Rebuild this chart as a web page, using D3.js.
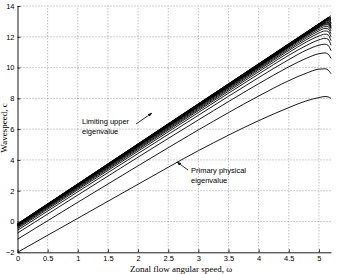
<!DOCTYPE html>
<html>
<head>
<meta charset="utf-8">
<script src="https://cdn.jsdelivr.net/npm/d3@7"></script>
<style>
body { margin: 0; background: #fff; }
.tick text { font-family: "Liberation Sans", Arial, sans-serif; font-size: 7.5px; fill: #000; }
.grid line { stroke: #888; stroke-dasharray: 1,2; stroke-width: 0.8; }
.note { font-family: "Liberation Sans", Arial, sans-serif; font-size: 7.5px; fill: #000; }
.title { font-family: "Liberation Serif", "Times New Roman", serif; font-size: 9px; fill: #000; }
</style>
</head>
<body>
<script>
var omega = [0, 1, 2, 3, 4, 4.5, 4.8, 5.0, 5.1, 5.15, 5.2];

// wavespeed curves, bottom (primary) to top (limiting)
var curves = [
  [-2.00, 0.21, 2.42, 4.60, 6.55, 7.40, 7.85, 8.05, 8.12, 8.10, 8.00],
  [-1.15, 1.25, 3.62, 5.95, 8.15, 9.15, 9.65, 9.90, 9.92, 9.85, 9.60],
  [-0.75, 1.72, 4.18, 6.60, 8.95, 10.05, 10.62, 10.90, 10.95, 10.88, 10.60],
  [-0.57, 1.93, 4.42, 6.90, 9.35, 10.52, 11.15, 11.45, 11.52, 11.45, 11.10],
  [-0.46, 2.06, 4.57, 7.08, 9.58, 10.80, 11.45, 11.80, 11.90, 11.85, 11.45],
  [-0.39, 2.14, 4.67, 7.20, 9.73, 10.98, 11.68, 12.05, 12.17, 12.13, 11.75],
  [-0.34, 2.20, 4.74, 7.28, 9.84, 11.11, 11.83, 12.24, 12.38, 12.35, 12.00],
  [-0.30, 2.25, 4.80, 7.35, 9.92, 11.20, 11.95, 12.38, 12.54, 12.52, 12.20],
  [-0.27, 2.29, 4.85, 7.41, 9.98, 11.28, 12.04, 12.49, 12.66, 12.66, 12.38],
  [-0.25, 2.32, 4.89, 7.46, 10.03, 11.34, 12.11, 12.58, 12.77, 12.78, 12.52],
  [-0.24, 2.34, 4.91, 7.49, 10.06, 11.37, 12.14, 12.62, 12.82, 12.84, 12.57],
  [-0.23, 2.35, 4.93, 7.51, 10.09, 11.39, 12.17, 12.66, 12.87, 12.90, 12.62],
  [-0.22, 2.36, 4.95, 7.53, 10.11, 11.41, 12.19, 12.69, 12.91, 12.95, 12.68],
  [-0.21, 2.37, 4.96, 7.54, 10.13, 11.43, 12.21, 12.72, 12.94, 12.99, 12.74],
  [-0.20, 2.39, 4.98, 7.57, 10.16, 11.46, 12.24, 12.76, 13.00, 13.06, 12.84],
  [-0.195, 2.395, 4.99, 7.58, 10.17, 11.48, 12.26, 12.78, 13.02, 13.09, 12.88],
  [-0.19, 2.40, 5.00, 7.59, 10.18, 11.49, 12.27, 12.79, 13.04, 13.12, 12.93],
  [-0.18, 2.41, 5.01, 7.61, 10.20, 11.51, 12.29, 12.81, 13.07, 13.17, 13.02],
  [-0.175, 2.415, 5.015, 7.615, 10.21, 11.515, 12.295, 12.82, 13.08, 13.185, 13.06],
  [-0.17, 2.42, 5.02, 7.62, 10.22, 11.52, 12.30, 12.83, 13.09, 13.20, 13.10],
  [-0.16, 2.43, 5.03, 7.63, 10.23, 11.53, 12.31, 12.84, 13.10, 13.22, 13.18],
  [-0.155, 2.44, 5.04, 7.64, 10.24, 11.54, 12.32, 12.845, 13.105, 13.23, 13.25],
  [-0.15, 2.45, 5.05, 7.65, 10.25, 11.55, 12.33, 12.85, 13.11, 13.24, 13.37]
];

var xTicks = [0, 0.5, 1, 1.5, 2, 2.5, 3, 3.5, 4, 4.5, 5];
var yTicks = [-2, 0, 2, 4, 6, 8, 10, 12, 14];

var width = 337, height = 274;

var x = d3.scaleLinear().domain([0, 5.2]).range([17.5, 331]);
var y = d3.scaleLinear().domain([-2, 14]).range([252.3, 6]);

var svg = d3.select("body").append("svg")
  .attr("width", width)
  .attr("height", height);

// dotted grid
svg.append("g").attr("class", "grid")
  .selectAll("line").data(xTicks.filter(function(d) { return d > 0; }))
  .enter().append("line")
  .attr("x1", function(d) { return x(d); }).attr("x2", function(d) { return x(d); })
  .attr("y1", y(-2)).attr("y2", y(14));

svg.append("g").attr("class", "grid")
  .selectAll("line").data(yTicks.filter(function(d) { return d > -2; }))
  .enter().append("line")
  .attr("x1", x(0)).attr("x2", x(5.2))
  .attr("y1", function(d) { return y(d); }).attr("y2", function(d) { return y(d); });

var line = d3.line()
  .x(function(d, i) { return x(omega[i]); })
  .y(function(d) { return y(d); })
  .curve(d3.curveMonotoneX);

svg.append("g")
  .selectAll("path").data(curves)
  .enter().append("path")
  .attr("d", line)
  .attr("fill", "none")
  .attr("stroke", "#000")
  .attr("stroke-width", 0.9);

// axes, ticks inside like matlab
var xAxis = d3.axisBottom(x).tickValues(xTicks).tickSizeInner(-3).tickSizeOuter(0).tickPadding(3)
  .tickFormat(function(d) { return d; });
var yAxis = d3.axisLeft(y).tickValues(yTicks).tickSizeInner(-3).tickSizeOuter(0).tickPadding(3);

var gx = svg.append("g").attr("transform", "translate(0," + y(-2) + ")").call(xAxis);
var gy = svg.append("g").attr("transform", "translate(" + x(0) + ",0)").call(yAxis);
[gx, gy].forEach(function(g) {
  g.select(".domain").attr("stroke", "#000").attr("stroke-width", 0.9);
  g.selectAll(".tick line").attr("stroke", "#000").attr("stroke-width", 0.8);
});

svg.append("text").attr("class", "title")
  .attr("x", 181).attr("y", 271.5)
  .attr("text-anchor", "middle")
  .text("Zonal flow angular speed, \u03c9");

svg.append("text").attr("class", "title")
  .attr("transform", "translate(7,128) rotate(-90)")
  .attr("text-anchor", "middle")
  .text("Wavespeed, c");

// annotations
svg.append("defs").append("marker")
  .attr("id", "head").attr("viewBox", "0 0 10 10")
  .attr("refX", 10).attr("refY", 5)
  .attr("markerWidth", 5).attr("markerHeight", 5)
  .attr("orient", "auto")
  .append("path").attr("d", "M0,1L10,5L0,9z").attr("fill", "#000");

svg.append("text").attr("class", "note").attr("x", 82).attr("y", 124).text("Limiting upper");
svg.append("text").attr("class", "note").attr("x", 82).attr("y", 134).text("eigenvalue");
svg.append("line")
  .attr("x1", 136).attr("y1", 124).attr("x2", 152).attr("y2", 113)
  .attr("stroke", "#000").attr("stroke-width", 0.8).attr("marker-end", "url(#head)");

svg.append("text").attr("class", "note").attr("x", 191).attr("y", 173).text("Primary physical");
svg.append("text").attr("class", "note").attr("x", 191).attr("y", 183).text("eigenvalue");
svg.append("line")
  .attr("x1", 188).attr("y1", 170).attr("x2", 177).attr("y2", 162)
  .attr("stroke", "#000").attr("stroke-width", 0.8).attr("marker-end", "url(#head)");
</script>
</body>
</html>
